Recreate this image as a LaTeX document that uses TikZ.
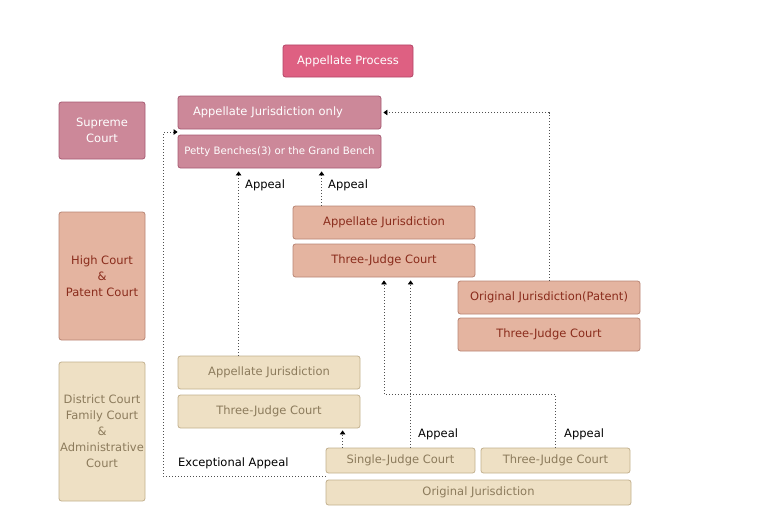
\documentclass[tikz,border=0pt]{standalone}
\usepackage{fontspec}
\setmainfont{DejaVu Sans}
\usetikzlibrary{arrows.meta,calc}
\definecolor{titlefill}{HTML}{DE6082}
\definecolor{titledraw}{HTML}{B24566}
\definecolor{supfill}{HTML}{CC8899}
\definecolor{supdraw}{HTML}{A65A72}
\definecolor{highfill}{HTML}{E4B4A0}
\definecolor{highdraw}{HTML}{B88474}
\definecolor{hightext}{HTML}{8A2C1C}
\definecolor{distfill}{HTML}{EEE0C4}
\definecolor{distdraw}{HTML}{C2B08E}
\definecolor{disttext}{HTML}{8C7B5C}
\definecolor{linkgray}{HTML}{505050}
\begin{document}
\begin{tikzpicture}[x=1pt,y=-1pt,
    box/.style={draw,rounded corners=2.5pt,line width=0.8pt,inner sep=0pt,
      align=center,font=\fontsize{11.5}{16}\selectfont},
    titlebox/.style={box,fill=titlefill,draw=titledraw,text=white},
    supbox/.style={box,fill=supfill,draw=supdraw,text=white},
    highbox/.style={box,fill=highfill,draw=highdraw,text=hightext},
    distbox/.style={box,fill=distfill,draw=distdraw,text=disttext},
    wide/.style={minimum width=203pt,minimum height=33pt},
    mid/.style={minimum width=182pt,minimum height=33pt},
    low/.style={minimum width=149pt,minimum height=25pt},
    lbl/.style={anchor=west,inner sep=0pt,font=\fontsize{11.5}{14}\selectfont},
    link/.style={draw=linkgray,line width=0.8pt,dash pattern=on 1pt off 2pt,
      -{Triangle[length=4pt,width=5.5pt,color=black]}}]
  \useasboundingbox (0,0) rectangle (775,527);
  \path
    (348,61) node[titlebox,minimum width=130pt,minimum height=32pt] (title) {Appellate Process}
    (102,130.5) node[supbox,minimum width=86pt,minimum height=57pt] (sc) {Supreme\\Court}
    (279.5,112.5) node[supbox,wide,text width=173pt,inner xsep=15pt,align=left] (scapp) {Appellate Jurisdiction only}
    (279.5,151.5) node[supbox,wide,font=\fontsize{10.2}{14}\selectfont] (scbench) {Petty Benches(3) or the Grand Bench}
    (102,276) node[highbox,minimum width=86pt,minimum height=128pt] (hc) {High Court\\\&\\Patent Court}
    (384,222.5) node[highbox,mid] (hcapp) {Appellate Jurisdiction}
    (384,260.5) node[highbox,mid] (hcthree) {Three-Judge Court}
    (549,297.5) node[highbox,mid] (hcorig) {Original Jurisdiction(Patent)}
    (549,334.5) node[highbox,mid] (hcpat) {Three-Judge Court}
    (102,431.5) node[distbox,minimum width=86pt,minimum height=139pt] (dc) {District Court\\Family Court\\\&\\Administrative\\Court}
    (269,372.5) node[distbox,mid] (dcapp) {Appellate Jurisdiction}
    (269,411.5) node[distbox,mid] (dcthree) {Three-Judge Court}
    (400.5,460.5) node[distbox,low] (dcsingle) {Single-Judge Court}
    (555.5,460.5) node[distbox,low] (dcthree2) {Three-Judge Court}
    (478.5,492.5) node[distbox,minimum width=305pt,minimum height=25pt] (dcorig) {Original Jurisdiction};
  \path
    (245,185) node[lbl] (ap1) {Appeal}
    (328,185) node[lbl] (ap2) {Appeal}
    (418,434) node[lbl] (ap3) {Appeal}
    (564,434) node[lbl] (ap4) {Appeal}
    (178,463) node[lbl] (exap) {Exceptional Appeal};
  \coordinate (exc) at ($(dcsingle.south west)!0.5!(dcorig.north west)$);
  \coordinate (scgap) at ($(scapp.south west)!0.5!(scbench.north west)$);
  \begin{scope}[link]
    \draw (exc) -- ++(-162,0) |- (scgap);
    \draw[shorten >=3pt] ([xshift=61pt]dcapp.north west) coordinate (a1) -- (a1 |- scbench.south);
    \draw[shorten >=3pt] ([xshift=29pt]hcapp.north west) coordinate (a2) -- (a2 |- scbench.south);
    \draw[shorten >=2pt] (hcorig.north) |- (scapp.east);
    \draw[shorten >=3pt] ([xshift=85pt]dcsingle.north west) coordinate (a3) -- (a3 |- hcthree.south);
    \draw[shorten >=3pt] (dcthree2.north) -- (dcthree2.north |- dcthree.north) -| (hcthree.south);
    \draw[shorten >=2pt] ([xshift=17pt]dcsingle.north west) coordinate (a4) -- (a4 |- dcthree.south);
  \end{scope}
\end{tikzpicture}
\end{document}
